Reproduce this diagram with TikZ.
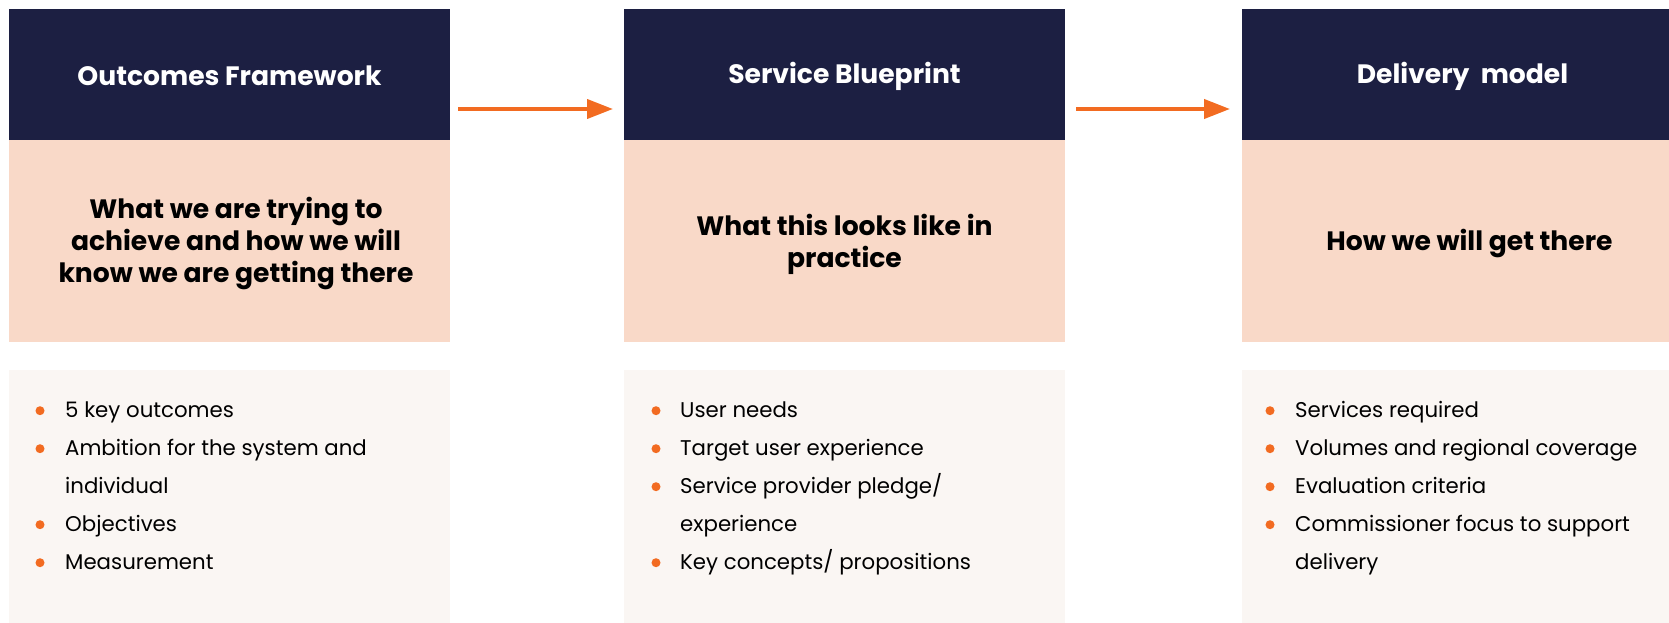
\documentclass[tikz,border=0pt]{standalone}
\usepackage{fontspec}
\setmainfont{Poppins}
\usetikzlibrary{arrows.meta}
\definecolor{navy}{RGB}{28,31,66}
\definecolor{peach}{RGB}{249,217,200}
\definecolor{cream}{RGB}{250,246,243}
\definecolor{orng}{RGB}{242,107,33}
\tikzset{
  box/.style={anchor=north west, minimum width=441pt, inner sep=0pt, outer sep=0pt},
  hdr/.style={box, fill=navy, minimum height=131pt},
  hdrtxt/.style={inner sep=0pt, text=white, font=\fontsize{26.6}{30}\selectfont\bfseries},
  mid/.style={box, fill=peach, minimum height=202pt},
  midtxt/.style={align=center, inner sep=0pt, text=black, font=\fontsize{26.6}{32}\selectfont\bfseries},
  low/.style={box, fill=cream, minimum height=260pt},
  itm/.style={anchor=base west, inner sep=0pt, font=\fontsize{21.3}{24}\selectfont, text=black},
  dot/.style={circle, fill=orng, inner sep=0pt, minimum size=9pt},
  arr/.style={draw=orng, line width=4pt, -{Triangle[length=26pt,width=19pt]}}
}
\begin{document}
\begin{tikzpicture}[x=1pt,y=-1pt]
\useasboundingbox (0,0) rectangle (1669,623);
% column 1
\node[hdr] (h1) at (9,9) {};
\node[hdrtxt] (h1t) at ([yshift=-1.5pt]h1.center) {Outcomes Framework};
\node[mid] (m1) at (9,140) {};
\node[midtxt] (m1t) at ([xshift=6.5pt,yshift=-3pt]m1.center) {What we are trying to\\achieve and how we will\\know we are getting there};
\node[low] (l1) at (9,370) {};
% column 2
\node[hdr] (h2) at (624,9) {};
\node[hdrtxt] (h2t) at ([yshift=-1.5pt]h2.center) {Service Blueprint};
\node[mid] (m2) at (624,140) {};
\node[midtxt] (m2t) at ([yshift=-3pt]m2.center) {What this looks like in\\practice};
\node[low] (l2) at (624,370) {};
% column 3
\node[hdr] (h3) at (1242,9) {};
\node[hdrtxt] (h3t) at ([yshift=-1.5pt]h3.center) {Delivery\ \ model};
\node[mid] (m3) at (1242,140) {};
\node[midtxt] (m3t) at ([xshift=7pt,yshift=-3pt]m3.center) {How we will get there};
\node[low] (l3) at (1242,370) {};
% arrows
\draw[arr] ([xshift=8pt,yshift=-34.5pt]h1.east) -- ([xshift=-11pt,yshift=-34.5pt]h2.west);
\draw[arr] ([xshift=11pt,yshift=-34.5pt]h2.east) -- ([xshift=-12pt,yshift=-34.5pt]h3.west);
% bullets column 1
\node[dot] (d11) at (40,410.7) {};
\node[itm] (t11) at (65,417.3) {5 key outcomes};
\node[dot] (d12) at (40,448.7) {};
\node[itm] (t12) at (65,455.3) {Ambition for the system and};
\node[itm] (t12b) at (65,493.3) {individual};
\node[dot] (d13) at (40,524.7) {};
\node[itm] (t13) at (65,531.3) {Objectives};
\node[dot] (d14) at (40,562.7) {};
\node[itm] (t14) at (65,569.3) {Measurement};
% bullets column 2
\node[dot] (d21) at (656,410.7) {};
\node[itm] (t21) at (680,417.3) {User needs};
\node[dot] (d22) at (656,448.7) {};
\node[itm] (t22) at (680,455.3) {Target user experience};
\node[dot] (d23) at (656,486.7) {};
\node[itm] (t23) at (680,493.3) {Service provider pledge/};
\node[itm] (t23b) at (680,531.3) {experience};
\node[dot] (d24) at (656,562.7) {};
\node[itm] (t24) at (680,569.3) {Key concepts/ propositions};
% bullets column 3
\node[dot] (d31) at (1270,410.7) {};
\node[itm] (t31) at (1295,417.3) {Services required};
\node[dot] (d32) at (1270,448.7) {};
\node[itm] (t32) at (1295,455.3) {Volumes and regional coverage};
\node[dot] (d33) at (1270,486.7) {};
\node[itm] (t33) at (1295,493.3) {Evaluation criteria};
\node[dot] (d34) at (1270,524.7) {};
\node[itm] (t34) at (1295,531.3) {Commissioner focus to support};
\node[itm] (t34b) at (1295,569.3) {delivery};
\end{tikzpicture}
\end{document}
